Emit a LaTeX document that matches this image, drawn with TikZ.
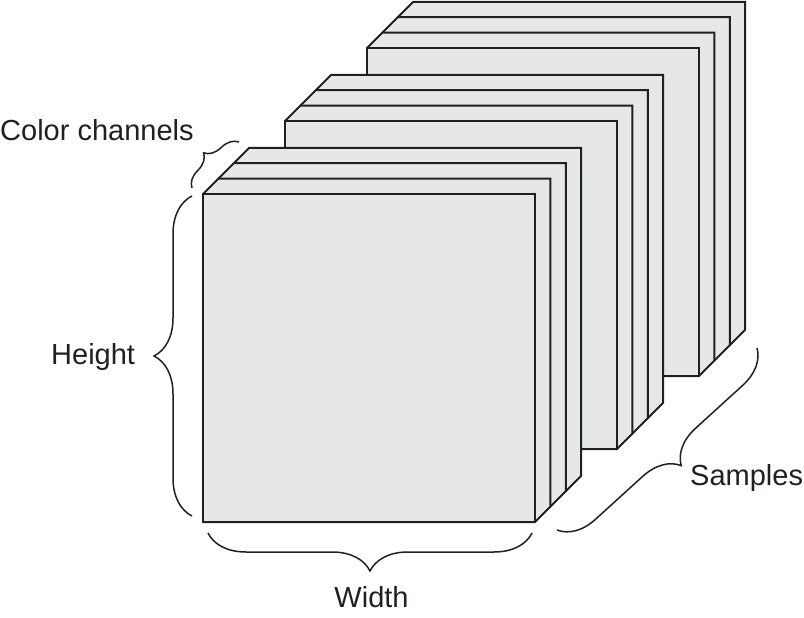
\documentclass[tikz,border=0pt]{standalone}
\usepackage{fontspec}
\setmainfont{Liberation Sans}
\usetikzlibrary{decorations.pathreplacing}
\definecolor{slabfill}{RGB}{230,231,232}
\definecolor{ink}{RGB}{35,31,32}
\begin{document}
\begin{tikzpicture}[x=1pt,y=-1pt,
  slab/.style={fill=slabfill,draw=ink,line width=2pt},
  bracestyle/.style={draw=ink,line width=1.5pt,decorate},
  lbl/.style={inner sep=0pt,text=ink,font=\fontsize{29pt}{34pt}\selectfont}]
\useasboundingbox (0,0) rectangle (804,618);
\def\dd{15.4}
\foreach \sx/\sy in {367/48,285/121,203/194}{
  \begin{scope}[shift={(\sx,\sy)}]
    \foreach \k in {3,2,1}{
      \draw[slab] ({\k*\dd},{-\k*\dd}) -- ({332+\k*\dd},{-\k*\dd})
        -- ({332+\k*\dd},{328-\k*\dd}) -- ({332+(\k-1)*\dd},{328-(\k-1)*\dd})
        -- ({(\k-1)*\dd},{328-(\k-1)*\dd}) -- ({(\k-1)*\dd},{-(\k-1)*\dd}) -- cycle;
    }
    \draw[slab] (0,0) rectangle (332,328);
  \end{scope}
}
% brace end points
\coordinate (hb1) at (192,516);
\coordinate (hb2) at (192,196);
\coordinate (wb1) at (532,533);
\coordinate (wb2) at (208,533);
\coordinate (cb1) at (192,188);
\coordinate (cb2) at (239,142);
\coordinate (sb1) at (757,348);
\coordinate (sb2) at (557,530);
\draw[bracestyle,decoration={brace,amplitude=38pt}] (hb1) -- (hb2);
\draw[bracestyle,decoration={brace,amplitude=38pt}] (wb1) -- (wb2);
\draw[bracestyle,decoration={brace,amplitude=17pt}] (cb1) -- (cb2);
\draw[bracestyle,decoration={brace,amplitude=36pt}] (sb1) -- (sb2);
% labels
\node[lbl,anchor=base west] (color) at (0,140) {Color channels};
\node[lbl,anchor=base west] (height) at (51,364) {Height};
\node[lbl,anchor=base] (width) at (371.5,607) {Width};
\node[lbl,anchor=base west] (samples) at (690,485) {Samples};
\end{tikzpicture}
\end{document}
